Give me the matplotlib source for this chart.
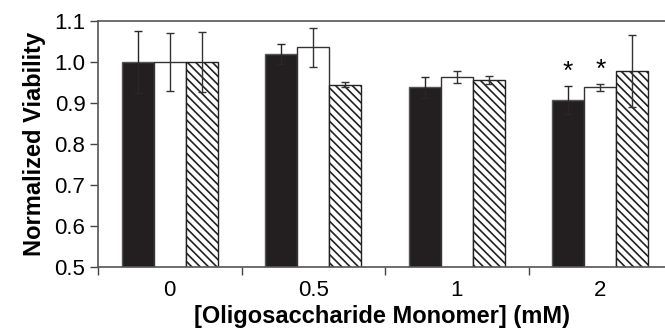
import numpy as np
import matplotlib
matplotlib.use("Agg")
import matplotlib.pyplot as plt

plt.rcParams['font.family'] = ['Liberation Sans', 'DejaVu Sans']
plt.rcParams['hatch.linewidth'] = 1.2

# data
categories = ['0', '0.5', '1', '2']
solid_vals = [1.000, 1.020, 0.938, 0.908]
solid_err = [0.075, 0.024, 0.026, 0.034]
open_vals = [1.000, 1.036, 0.964, 0.938]
open_err = [0.070, 0.048, 0.015, 0.009]
hatch_vals = [1.000, 0.945, 0.956, 0.978]
hatch_err = [0.073, 0.007, 0.009, 0.087]
signif_solid = [False, False, False, True]
signif_open = [False, False, False, True]

x = np.arange(len(categories))
w = 0.223

fig = plt.figure(figsize=(6.65, 3.36), dpi=100)
ax = fig.add_axes([98 / 665, 69 / 336, 567 / 665, 246 / 336])

ekw = dict(ecolor='#333333', elinewidth=1.0, capsize=3, capthick=1.0)
ax.bar(x - w, solid_vals, w, color='#231f20', edgecolor='#555555', linewidth=1.0,
       yerr=solid_err, error_kw=dict(ekw, ecolor='#2a2627'), zorder=2)
ax.bar(x, open_vals, w, color='white', edgecolor='#333333',
       linewidth=1.0, yerr=open_err, error_kw=ekw, zorder=2)
ax.bar(x + w, hatch_vals, w, color='white', edgecolor='#222222', hatch='\\\\\\\\',
       linewidth=1.0, yerr=hatch_err, error_kw=ekw, zorder=2)

for i in range(len(categories)):
    if signif_solid[i]:
        ax.text(x[i] - w, solid_vals[i] + solid_err[i] + 0.004, '*',
                ha='center', va='bottom', fontsize=19)
    if signif_open[i]:
        ax.text(x[i], open_vals[i] + open_err[i] + 0.004, '*',
                ha='center', va='bottom', fontsize=19)

ax.set_ylim(0.5, 1.1)
ax.set_xlim(-0.5, -0.5 + 567 / 143.5)
ax.set_yticks(np.arange(0.5, 1.101, 0.1))
ax.set_yticklabels(['%.1f' % v for v in np.arange(0.5, 1.101, 0.1)])
ax.set_xticks(x - 0.5)
ax.set_xticklabels([])
ax.set_xticks(x, minor=True)
ax.set_xticklabels(categories, minor=True)
ax.tick_params(axis='x', which='minor', length=0, pad=9, labelsize=16)
ax.tick_params(axis='x', which='major', length=6, width=1, color='#444444')
ax.tick_params(axis='y', length=6, width=1, color='#444444', labelsize=16, pad=3)

for s in ['left', 'bottom', 'top']:
    ax.spines[s].set_color('#555555')
    ax.spines[s].set_linewidth(1.2)
ax.spines['right'].set_visible(False)

ax.set_xlabel('[Oligosaccharide Monomer] (mM)', fontsize=17, fontweight='bold', labelpad=3)
ax.set_ylabel('Normalized Viability', fontsize=17, fontweight='bold', labelpad=6)

fig.savefig('out.png', dpi=100)
